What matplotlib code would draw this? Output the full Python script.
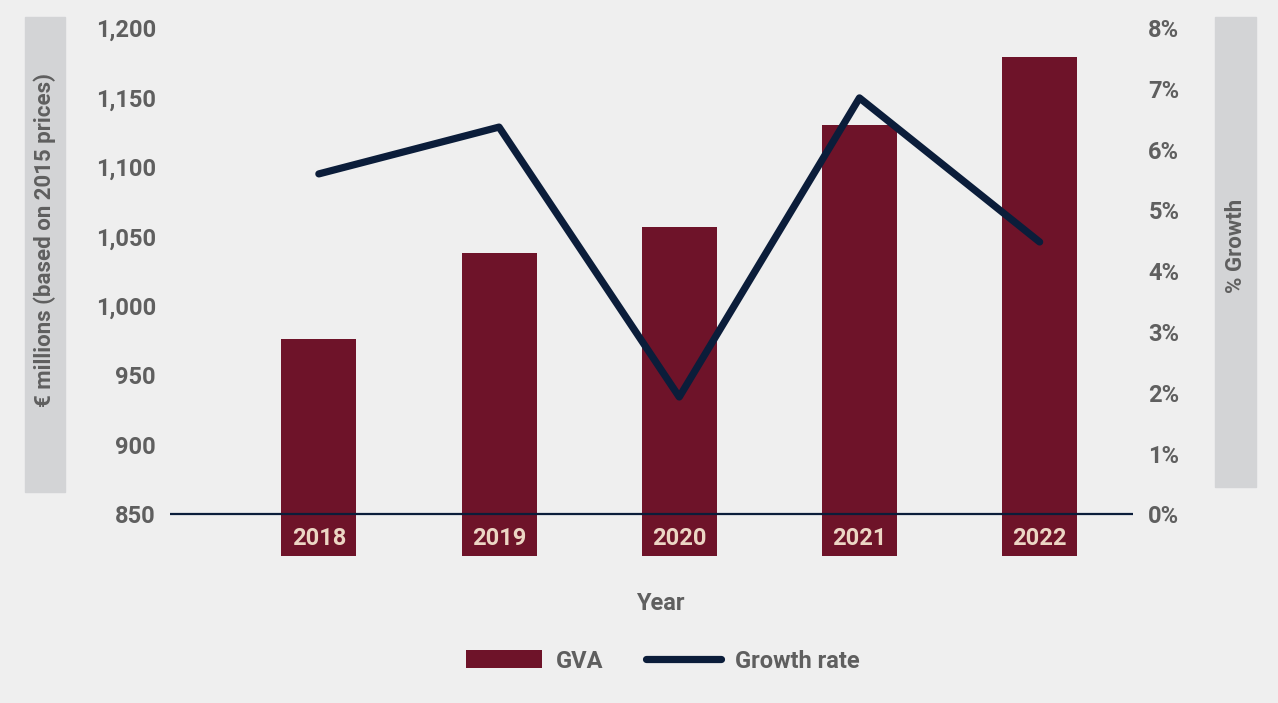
import matplotlib
matplotlib.use('Agg')
import matplotlib.pyplot as plt
import matplotlib.transforms as mtransforms
from matplotlib.patches import Rectangle, Patch
from matplotlib.lines import Line2D
from matplotlib.ticker import FuncFormatter

plt.rcParams['font.family'] = ['Roboto', 'DejaVu Sans']
plt.rcParams['font.weight'] = 'bold'

# GVA and its year-on-year growth
years = ['2018', '2019', '2020', '2021', '2022']
gva = [976, 1038, 1057, 1130, 1179]
growth = [5.60, 6.37, 1.93, 6.85, 4.48]

left_ticks = [850, 900, 950, 1000, 1050, 1100, 1150, 1200]
right_ticks = [0, 1, 2, 3, 4, 5, 6, 7, 8]

BG = '#efefef'
MAROON = '#6e1329'
NAVY = '#0b1d3a'
GREY_TXT = '#5f5f5f'
BOX = '#d3d4d6'

W, H = 1278, 703
fig = plt.figure(figsize=(W / 100, H / 100), dpi=100, facecolor=BG)

ax = fig.add_axes([170 / W, 1 - 556 / H, (1133 - 170) / W, (556 - 28) / H])
ax.set_facecolor('none')
ax2 = ax.twinx()

base = 820
x = list(range(len(years)))
ax.bar(x, [v - base for v in gva], bottom=base, width=0.416, color=MAROON, zorder=2)
ax.axhline(850, color=NAVY, lw=1.6, zorder=3)

ax.set_xlim(-0.826, 4.518)
ax.set_ylim(base, 1200)
ax.set_yticks(left_ticks)
ax.yaxis.set_major_formatter(FuncFormatter(lambda v, p: f'{v:,.0f}'))
ax.set_xticks([])

# right axis aligned so 0% sits on the 850 baseline
frac = (850 - base) / (1200 - base)
r_low = -frac * 8 / (1 - frac)
ax2.plot(x, growth, color=NAVY, lw=5.2, solid_capstyle='round',
         solid_joinstyle='round', zorder=4)
ax2.set_ylim(r_low, 8)
ax2.set_yticks(right_ticks)
ax2.yaxis.set_major_formatter(FuncFormatter(lambda v, p: f'{v:.0f}%'))

for a in (ax, ax2):
    for s in a.spines.values():
        s.set_visible(False)
    a.tick_params(axis='y', length=0, labelsize=17, labelcolor=GREY_TXT)
ax.tick_params(axis='y', pad=10)
ax2.tick_params(axis='y', pad=11)

# year labels sit inside the foot of each bar
trans = mtransforms.blended_transform_factory(ax.transData, ax.transAxes)
for i, yr in enumerate(years):
    ax.text(i, 0.034, yr, transform=trans, ha='center', va='center',
            fontsize=17, color='#ecd6c4', fontweight='bold', zorder=5)

# grey boxes behind the axis titles
fig.patches.append(Rectangle((25 / W, 1 - 492 / H), 40 / W, 475 / H,
                             transform=fig.transFigure, color=BOX, zorder=0))
fig.patches.append(Rectangle((1215 / W, 1 - 487 / H), 41 / W, 470 / H,
                             transform=fig.transFigure, color=BOX, zorder=0))
fig.text(45 / W, 1 - 240 / H, '€ millions (based on 2015 prices)', rotation=90,
         ha='center', va='center', fontsize=16, color=GREY_TXT)
fig.text(1236 / W, 1 - 246 / H, '% Growth', rotation=90,
         ha='center', va='center', fontsize=16, color=GREY_TXT)

fig.text(660 / W, 1 - 604 / H, 'Year', ha='center', va='center',
         fontsize=17, color=GREY_TXT)

handles = [Patch(facecolor=MAROON, edgecolor='none'),
           Line2D([], [], color=NAVY, lw=5.2, solid_capstyle='round')]
fig.legend(handles, ['GVA', 'Growth rate'], loc='center',
           bbox_to_anchor=(663 / W, 1 - 661 / H), ncol=2, frameon=False,
           fontsize=17, labelcolor=GREY_TXT, handlelength=3.2,
           handleheight=0.8, handletextpad=0.6, columnspacing=1.8)

plt.savefig('out.png', dpi=100, facecolor=BG)
